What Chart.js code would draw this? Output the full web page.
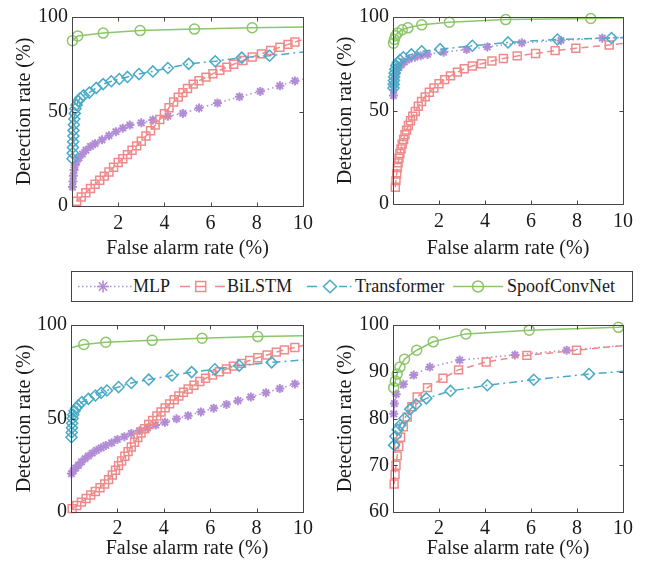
<!DOCTYPE html>
<html>
<head>
<meta charset="utf-8">
<script src="https://cdn.jsdelivr.net/npm/chart.js@4.4.1/dist/chart.umd.min.js"></script>
<style>
  html, body { margin: 0; padding: 0; background: #fff; }
  body { width: 646px; height: 562px; position: relative; overflow: hidden;
         font-family: "Liberation Serif", "Times New Roman", serif; }
  canvas.panel { position: absolute; }
  #legend { position: absolute; left: 71px; top: 271px; width: 562px; height: 31px;
            border: 1px solid #444; box-sizing: border-box; }
  #legend svg { position: absolute; left: 0; top: 0; }
  #legend span { position: absolute; top: 0; line-height: 29px; font-size: 18px; color: #1a1a1a; white-space: nowrap; }
</style>
</head>
<body>
<canvas id="c1" class="panel"></canvas>
<canvas id="c2" class="panel"></canvas>
<canvas id="c3" class="panel"></canvas>
<canvas id="c4" class="panel"></canvas>

<div id="legend">
  <svg width="560" height="29" viewBox="0 0 560 29" fill="none" stroke-width="1.5">
    <!-- MLP: dotted line with asterisk -->
    <g stroke="#B28DD6">
      <line x1="6" y1="14.5" x2="60" y2="14.5" stroke-dasharray="1.5 2.5"/>
      <line x1="25" y1="14.5" x2="37" y2="14.5" stroke-width="1.6"/>
      <line x1="31" y1="8.5" x2="31" y2="20.5" stroke-width="1.6"/>
      <line x1="26.8" y1="10.3" x2="35.2" y2="18.7" stroke-width="1.6"/>
      <line x1="26.8" y1="18.7" x2="35.2" y2="10.3" stroke-width="1.6"/>
    </g>
    <!-- BiLSTM: dashed line with square -->
    <g stroke="#F08A8A">
      <line x1="108" y1="14.5" x2="118" y2="14.5"/>
      <line x1="124" y1="14.5" x2="134" y2="14.5"/>
      <line x1="143" y1="14.5" x2="153" y2="14.5"/>
      <rect x="123.7" y="9.5" width="10" height="10"/>
    </g>
    <!-- Transformer: dash-dot line with diamond -->
    <g stroke="#4AABC6">
      <line x1="235" y1="14.5" x2="245" y2="14.5"/>
      <line x1="267" y1="14.5" x2="275" y2="14.5"/>
      <line x1="278" y1="14.5" x2="279.5" y2="14.5"/>
      <polygon points="258,8.3 264.5,14.5 258,20.7 251.5,14.5"/>
    </g>
    <!-- SpoofConvNet: solid line with circle -->
    <g stroke="#8CC66A">
      <line x1="381" y1="14.5" x2="431" y2="14.5"/>
      <circle cx="406" cy="14.5" r="5.5"/>
    </g>
  </svg>
  <span style="left:61px">MLP</span>
  <span style="left:155px">BiLSTM</span>
  <span style="left:283px">Transformer</span>
  <span style="left:435px">SpoofConvNet</span>
</div>

<script>
// ---- ROC data: [false alarm rate (%), detection rate (%)] ----
// Panel (a)
const fa1_mlp = [[0.02,10],[0.04,13],[0.06,16],[0.09,19],[0.13,21.5],[0.2,23.5],[0.3,25.5],[0.45,27.5],[0.6,29.5],[0.8,31.5],[1.0,33],[1.3,35],[1.6,37.2],[1.9,39.3],[2.2,41.2],[2.5,42.8],[3.0,44],[3.5,45.5],[4.15,47.5],[4.8,49],[5.5,51.8],[6.3,54.5],[7.25,57.8],[8.15,60.6],[9.0,63.6],[9.65,66.2],[10,67.2]];
const fa1_bilstm = [[0.2,2.5],[0.4,4.8],[0.6,7],[0.8,9.3],[1.0,11.5],[1.2,13.6],[1.4,15.8],[1.6,18],[1.8,20.5],[2.0,23],[2.2,25],[2.4,27.2],[2.6,29.5],[2.8,31.8],[3.0,34.3],[3.2,37],[3.4,39.8],[3.6,42.8],[3.8,45.8],[4.0,48.8],[4.2,52],[4.4,55],[4.6,57.6],[4.8,60],[5.0,62.2],[5.25,64.5],[5.5,66.3],[5.8,68.2],[6.1,70],[6.4,71.8],[6.7,73.5],[7.0,75],[7.4,77],[7.8,78.8],[8.2,80.5],[8.6,82.3],[9.0,84],[9.35,85.5],[9.65,86.8],[10,88]];
const fa1_trans = [[0.02,25],[0.03,28],[0.04,31],[0.05,34],[0.06,37],[0.07,40],[0.08,43],[0.1,46],[0.12,49],[0.15,51.5],[0.2,53.5],[0.27,55.5],[0.35,57],[0.5,58.5],[0.75,60],[1.05,62.5],[1.35,64.5],[1.7,66],[2.05,67.2],[2.4,68.3],[2.9,69.8],[3.5,71.2],[4.15,73],[5.05,75.2],[6.2,76.6],[7.35,78.5],[8.55,79.5],[10,81.5]];
const fa1_spoof = [[0.02,87.5],[0.25,90],[1.35,91.5],[2.95,92.8],[5.3,93.6],[7.8,94.3],[10,94.7]];

// Panel (b)
const fa2_mlp = [[0.02,58],[0.03,61],[0.05,64],[0.08,67],[0.12,69.5],[0.18,71.5],[0.26,73],[0.36,74.5],[0.5,76],[0.7,77.5],[0.95,78.5],[1.2,79.3],[1.5,80],[2.2,81.2],[3.2,82.6],[4.1,84],[5.6,86.2],[7.3,87.5],[9.1,88.7],[10,89.2]];
const fa2_bilstm = [[0.1,9],[0.13,12.5],[0.16,16],[0.19,19.5],[0.22,22],[0.26,24.5],[0.3,27],[0.35,29.5],[0.4,32],[0.46,34.5],[0.52,37],[0.59,39.5],[0.67,42],[0.76,44.5],[0.86,47],[0.97,49.5],[1.1,52.3],[1.24,54.8],[1.4,57.3],[1.58,59.8],[1.78,62],[2.0,64.3],[2.25,66.5],[2.5,68.5],[2.8,70.5],[3.1,72.3],[3.45,73.8],[3.85,75],[4.3,76.5],[4.8,77.8],[5.4,79.2],[6.2,80.5],[7.05,82],[7.95,83.3],[9.4,85],[10,85.8]];
const fa2_trans = [[0.02,62],[0.03,64],[0.04,66],[0.05,68],[0.07,70],[0.1,72],[0.14,74],[0.2,75.5],[0.3,77],[0.45,78.5],[0.8,80],[1.25,81.7],[2.05,82.8],[3.45,84.6],[5.0,86.4],[7.15,88],[9.5,88.8],[10,88.9]];
const fa2_spoof = [[0.02,86],[0.06,88],[0.12,90],[0.2,91.5],[0.4,93.2],[0.65,94.2],[1.25,95.8],[2.45,97.2],[4.9,98.6],[8.6,99.2],[10,99.5]];

// Panel (c)
const fa3_mlp = [[0.02,20.5],[0.1,22],[0.2,23.5],[0.32,25],[0.45,26.8],[0.6,28.5],[0.75,30],[0.92,31.5],[1.1,33],[1.3,34.3],[1.5,35.6],[1.75,37],[2.0,38.8],[2.3,40.3],[2.6,42],[2.95,43.5],[3.3,45],[3.65,46.5],[4.05,48],[4.55,49.8],[5.05,51.5],[5.6,53.5],[6.15,55.5],[6.7,57.5],[7.2,59.5],[7.75,61.5],[8.4,63.8],[9.0,66],[9.65,68.5],[10,69.3]];
const fa3_bilstm = [[0.05,1.8],[0.25,3.5],[0.45,5.3],[0.65,7.2],[0.85,9.1],[1.05,11],[1.25,13],[1.45,15],[1.62,17.3],[1.78,19.8],[1.92,22.3],[2.05,24.8],[2.18,27.3],[2.32,29.8],[2.46,32.3],[2.6,34.8],[2.74,37.3],[2.88,39.8],[3.02,42.2],[3.18,44.5],[3.35,46.8],[3.52,49],[3.7,51.3],[3.88,53.5],[4.06,55.7],[4.25,57.8],[4.45,60],[4.65,62],[4.85,64],[5.05,65.8],[5.3,67.8],[5.55,69.8],[5.8,71.5],[6.1,73.3],[6.4,75],[6.7,76.5],[7.0,78],[7.35,79.5],[7.7,81],[8.05,82.5],[8.45,84],[8.85,85.5],[9.2,86.7],[9.65,88],[10,89]];
const fa3_trans = [[0.02,40],[0.03,42.5],[0.04,45],[0.05,47.5],[0.07,50],[0.1,52],[0.15,54],[0.22,55.5],[0.32,57],[0.47,58.8],[0.75,60.5],[1.05,62.3],[1.3,63.8],[1.55,65],[2.05,66.8],[2.6,69],[3.35,70.8],[4.35,73],[5.2,74.8],[6.2,76.3],[7.25,78.3],[8.65,80],[10,81.3]];
const fa3_spoof = [[0,87.8],[0.55,89.6],[1.5,90.8],[3.5,91.8],[5.65,92.9],[8.05,93.8],[10,94.2]];

// Panel (d)
const fa4_mlp = [[0.03,81],[0.06,83.2],[0.14,85.2],[0.45,87.3],[0.9,89.3],[1.6,91],[2.9,92.5],[5.3,93.6],[7.55,94.6],[10,95.6]];
const fa4_bilstm = [[0.05,66],[0.09,68],[0.13,70],[0.18,72],[0.25,74],[0.33,76],[0.45,78.2],[0.62,80.3],[0.82,82.5],[1.05,84.6],[1.5,86.6],[2.17,88.6],[2.85,90.4],[4.05,92.1],[5.82,93.5],[7.98,94.6],[10,95.6]];
const fa4_trans = [[0.05,74.3],[0.1,76.2],[0.2,77.6],[0.32,78.6],[0.5,80],[0.75,82],[1.0,83],[1.45,84.3],[2.5,85.9],[4.1,87.1],[6.12,88.3],[8.52,89.5],[10,90.1]];
const fa4_spoof = [[0.03,86.6],[0.1,88],[0.18,89.5],[0.3,91],[0.5,92.7],[1.03,94.6],[1.75,96.4],[3.17,98.1],[5.92,98.9],[9.8,99.5],[10,99.6]];

// Axis ticks
const xTicks = [0, 2, 4, 6, 8, 10];
const yTicksWide = [0, 50, 100];
const yTicksZoom = [60, 70, 80, 90, 100];

// ---- styling ----
const FONT = '"Liberation Serif", "Times New Roman", serif';
const TEXT = '#1a1a1a';
const AXIS = '#444';
const STYLE = {
  MLP:          { color: '#B28DD6', dash: [1.5, 3],       point: 'star',    r: 4.5, bw: 2,   order: 4 },
  BiLSTM:       { color: '#F08A8A', dash: [7, 4.5],       point: 'rect',    r: 5.6, bw: 1.5, order: 3 },
  Transformer:  { color: '#4AABC6', dash: [8, 4, 2, 4],   point: 'rectRot', r: 5.5, bw: 1.5, order: 2 },
  SpoofConvNet: { color: '#8CC66A', dash: [],             point: 'circle',  r: 5,   bw: 1.5, order: 1 }
};

// Box around the plot area with inward tick marks on all four sides
const framePlugin = {
  id: 'frame',
  afterDatasetsDraw(chart) {
    const { ctx, chartArea: a, scales: { x, y } } = chart;
    const L = a.left + 0.5, R = a.right + 0.5, T = a.top + 0.5, B = a.bottom + 0.5;
    const tl = 4;
    ctx.save();
    ctx.strokeStyle = AXIS;
    ctx.lineWidth = 1;
    ctx.beginPath();
    ctx.rect(L, T, R - L, B - T);
    x.ticks.forEach(t => {
      const px = Math.round(x.getPixelForValue(t.value)) + 0.5;
      ctx.moveTo(px, B); ctx.lineTo(px, B - tl);
      ctx.moveTo(px, T); ctx.lineTo(px, T + tl);
    });
    y.ticks.forEach(t => {
      const py = Math.round(y.getPixelForValue(t.value)) + 0.5;
      ctx.moveTo(L, py); ctx.lineTo(L + tl, py);
      ctx.moveTo(R, py); ctx.lineTo(R - tl, py);
    });
    ctx.stroke();
    ctx.restore();
  }
};

function dataset(name, pts) {
  const s = STYLE[name];
  return {
    label: name,
    data: pts.map(([x, y]) => ({ x, y })),
    borderColor: s.color,
    backgroundColor: 'rgba(0,0,0,0)',
    borderWidth: 1.5,
    borderDash: s.dash,
    tension: 0,
    fill: false,
    pointStyle: s.point,
    // the line runs on to the frame, markers sit only on interior points
    pointRadius: c => (c.raw && (c.raw.x <= 0 || c.raw.x >= 10)) ? 0 : s.r,
    pointHoverRadius: 0,
    pointBorderColor: s.color,
    pointBackgroundColor: 'rgba(0,0,0,0)',
    pointBorderWidth: s.bw,
    clip: 12,
    order: s.order
  };
}

function panel(id, g, series, yTicks) {
  const cv = document.getElementById(id);
  cv.width = g.w; cv.height = g.h;
  cv.style.width = g.w + 'px'; cv.style.height = g.h + 'px';
  cv.style.left = g.x + 'px'; cv.style.top = g.y + 'px';
  const tickFont = { family: FONT, size: 20 };
  const titleFont = { family: FONT, size: 20 };
  new Chart(cv, {
    type: 'line',
    data: { datasets: series.map(([n, p]) => dataset(n, p)) },
    options: {
      responsive: false,
      animation: false,
      devicePixelRatio: 1,
      events: [],
      layout: { padding: { left: 0, top: g.t, right: g.w - g.r, bottom: 0 } },
      plugins: { legend: { display: false }, tooltip: { enabled: false } },
      scales: {
        x: {
          type: 'linear',
          min: xTicks[0], max: xTicks[xTicks.length - 1],
          afterBuildTicks: s => { s.ticks = xTicks.map(v => ({ value: v })); },
          ticks: { font: tickFont, color: TEXT, padding: g.xTickPad, maxRotation: 0, autoSkip: false,
                   callback: v => (v === 0 ? '' : String(v)) },
          grid: { display: false, drawTicks: false },
          border: { display: false },
          title: { display: true, text: 'False alarm rate (%)', font: titleFont, color: TEXT,
                   padding: { top: 0, bottom: g.xTitlePad } },
          afterFit: s => { s.height = g.h - g.b; }
        },
        y: {
          type: 'linear',
          min: yTicks[0], max: yTicks[yTicks.length - 1],
          afterBuildTicks: s => { s.ticks = yTicks.map(v => ({ value: v })); },
          ticks: { font: tickFont, color: TEXT, padding: 4, autoSkip: false },
          grid: { display: false, drawTicks: false },
          border: { display: false },
          title: { display: true, text: 'Detection rate (%)', font: titleFont, color: TEXT,
                   padding: { top: g.yTitlePad, bottom: 0 } },
          afterFit: s => { s.width = g.l; }
        }
      }
    },
    plugins: [framePlugin]
  });
}

panel('c1', { x: 0, y: 0, w: 320, h: 262, l: 72, t: 17, r: 303, b: 206, xTickPad: 6, xTitlePad: 1, yTitlePad: 13 },
  [['MLP', fa1_mlp], ['BiLSTM', fa1_bilstm], ['Transformer', fa1_trans], ['SpoofConvNet', fa1_spoof]], yTicksWide);
panel('c2', { x: 320, y: 0, w: 326, h: 262, l: 73, t: 17, r: 303, b: 204, xTickPad: 6, xTitlePad: 1, yTitlePad: 14 },
  [['MLP', fa2_mlp], ['BiLSTM', fa2_bilstm], ['Transformer', fa2_trans], ['SpoofConvNet', fa2_spoof]], yTicksWide);
panel('c3', { x: 0, y: 305, w: 320, h: 257, l: 71, t: 20, r: 303, b: 207, xTickPad: 5, xTitlePad: 1, yTitlePad: 13 },
  [['MLP', fa3_mlp], ['BiLSTM', fa3_bilstm], ['Transformer', fa3_trans], ['SpoofConvNet', fa3_spoof]], yTicksWide);
panel('c4', { x: 320, y: 305, w: 326, h: 257, l: 73, t: 20, r: 303, b: 207, xTickPad: 5, xTitlePad: 1, yTitlePad: 14 },
  [['MLP', fa4_mlp], ['BiLSTM', fa4_bilstm], ['Transformer', fa4_trans], ['SpoofConvNet', fa4_spoof]], yTicksZoom);
</script>
</body>
</html>
